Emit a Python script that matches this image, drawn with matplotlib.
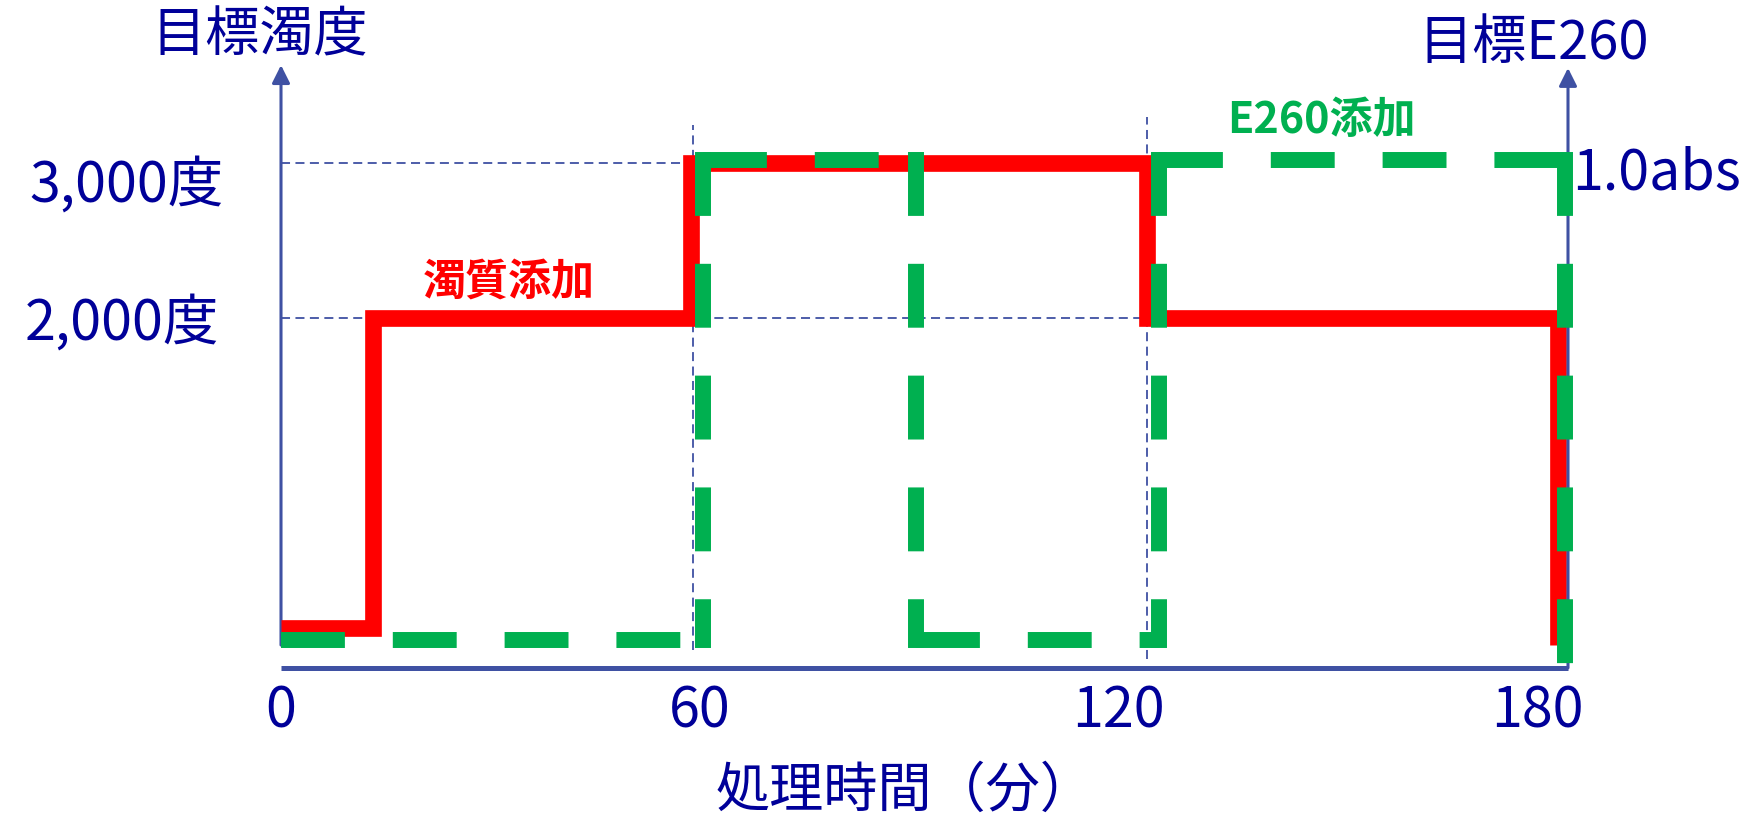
import matplotlib
matplotlib.use('Agg')
import matplotlib.pyplot as plt

plt.rcParams['font.family'] = ['Noto Sans CJK JP', 'DejaVu Sans']

# step data (minutes)
red_t = [0, 13.2, 58.7, 124.1, 182.9]
red_deg = [0, 2000, 3000, 2000, -110]          # 目標濁度 (度)
green_t = [0, 60.5, 91.0, 125.8, 184.0]
green_abs = [0, 1.0, 0, 1.0, -0.058]           # 目標E260 (abs)
x_ticks = [0, 60, 120, 180]
deg_ticks = [3000, 2000]
deg_labels = ['3,000度', '2,000度']
guide_t = [59.0, 124.1]

NAVY = '#000099'
AXC = '#3f51a3'
RED = '#ff0000'
GREEN = '#00b050'

W, H = 1762, 817
fig = plt.figure(figsize=(W / 100, H / 100), dpi=100)


def fx(p):
    return p / W


def fy(p):
    return 1 - p / H


# axes box: x 281..1568 px, y 60..668 px
ax = fig.add_axes([fx(281), fy(668), fx(1568) - fx(281), fy(60) - fy(668)])
ax.set_xlim(0, 184.4)
ax.set_ylim(-258, 3665)
ax.set_axis_off()
ax2 = ax.twinx()
ax2.set_ylim(-0.0583, 1.2083)
ax2.set_axis_off()

# thin dashed guides
ax.plot([0, guide_t[1]], [deg_ticks[0]] * 2, color=AXC, lw=1.3, dashes=(5, 3), zorder=1)
ax.plot([0, 129.5], [deg_ticks[1]] * 2, color=AXC, lw=1.3, dashes=(5, 3), zorder=1)
ax.plot([guide_t[0]] * 2, [-142, 3245], color=AXC, lw=1.3, dashes=(5, 3), zorder=1)
ax.plot([guide_t[1]] * 2, [-200, 3297], color=AXC, lw=1.3, dashes=(5, 3), zorder=1)

# axis lines with arrows
ax.plot([0, 184.4], [-258, -258], color=AXC, lw=3.6, clip_on=False, solid_capstyle='butt', zorder=2)
ax.annotate('', xy=(0, 3632), xytext=(0, -110), annotation_clip=False,
            arrowprops=dict(arrowstyle='-|>', color=AXC, lw=2.2, mutation_scale=27,
                            shrinkA=0, shrinkB=0), zorder=2)
ax2.annotate('', xy=(184.4, 1.1917), xytext=(184.4, -0.058), annotation_clip=False,
             arrowprops=dict(arrowstyle='-|>', color=AXC, lw=2.2, mutation_scale=27,
                             shrinkA=0, shrinkB=0), zorder=2)

# turbidity (red, solid)
ax.plot(red_t, red_deg, drawstyle='steps-post', color=RED, lw=12,
        solid_joinstyle='miter', solid_capstyle='butt', clip_on=False, zorder=3)

# E260 (green, dashed) - each segment drawn on its own
for i in range(len(green_t) - 1):
    ax2.plot([green_t[i], green_t[i + 1]], [green_abs[i]] * 2, color=GREEN, lw=11.5,
             dashes=(4, 3), dash_capstyle='butt', clip_on=False, zorder=4)
    top, bot = sorted([green_abs[i], green_abs[i + 1]], reverse=True)
    ax2.plot([green_t[i + 1]] * 2, [top, bot], color=GREEN, lw=11.5,
             dashes=(3, 4), dash_capstyle='projecting', clip_on=False, zorder=4)

# tick labels
for t in x_ticks:
    ax.text(t, -639, str(t), ha='center', va='baseline', fontsize=40, color=NAVY)
for lab, (px, py) in zip(deg_labels, [(224, 202), (219, 340)]):
    fig.text(fx(px), fy(py), lab, ha='right', va='baseline', fontsize=40, color=NAVY)
fig.text(fx(1572), fy(190), '1.0abs', ha='left', va='baseline', fontsize=40, color=NAVY)

# axis titles
fig.text(fx(260), fy(51), '目標濁度', ha='center', va='baseline', fontsize=39, color=NAVY)
fig.text(fx(1534), fy(59), '目標E260', ha='center', va='baseline', fontsize=39, color=NAVY)
fig.text(fx(716), fy(807), '処理時間（分）', ha='left', va='baseline', fontsize=39, color=NAVY)

# annotations
fig.text(fx(423), fy(295), '濁質添加', ha='left', va='baseline', fontsize=31,
         fontweight='bold', color=RED)
fig.text(fx(1227), fy(133), 'E260添加', ha='left', va='baseline', fontsize=31,
         fontweight='bold', color=GREEN)

fig.savefig('out.png', dpi=100)
